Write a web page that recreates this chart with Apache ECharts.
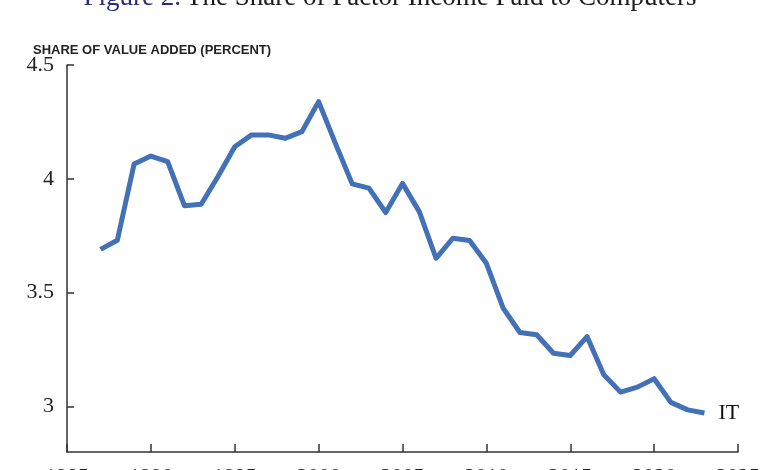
<!DOCTYPE html>
<html>
<head>
<meta charset="utf-8">
<script src="https://cdn.jsdelivr.net/npm/echarts@6/dist/echarts.min.js"></script>
<style>
html,body{margin:0;padding:0;background:#fff;}
#chart{width:780px;height:470px;}
</style>
</head>
<body>
<div id="chart"></div>
<script>
var years = [1987,1988,1989,1990,1991,1992,1993,1994,1995,1996,1997,1998,1999,2000,2001,2002,2003,2004,2005,2006,2007,2008,2009,2010,2011,2012,2013,2014,2015,2016,2017,2018,2019,2020,2021,2022,2023];
var itShare = [3.69,3.73,4.065,4.10,4.076,3.882,3.888,4.01,4.141,4.193,4.193,4.178,4.207,4.339,4.156,3.978,3.959,3.852,3.98,3.856,3.651,3.739,3.729,3.629,3.432,3.325,3.315,3.234,3.224,3.307,3.139,3.063,3.085,3.122,3.018,2.985,2.971];
var yTicks = [3, 3.5, 4, 4.5];
var seriesName = 'IT';
var titleMain = 'The Share of Factor Income Paid to Computers';
var titleFig = 'Figure 2.';
var yAxisTitle = 'SHARE OF VALUE ADDED (PERCENT)';

var chart = echarts.init(document.getElementById('chart'), null, {renderer:'canvas'});
var points = years.map(function(y,i){return [y, itShare[i]];});
chart.setOption({
  animation:false,
  backgroundColor:'#ffffff',
  title:[{
    text:'{a|' + titleFig + '} {b|' + titleMain + '}',
    left:'center', top:-21,
    textStyle:{rich:{
      a:{fontFamily:'Liberation Serif', fontWeight:'normal', fontSize:27, color:'#2a2c78'},
      b:{fontFamily:'Liberation Serif', fontWeight:'normal', fontSize:27, color:'#1a1a1a'}
    }}
  },{
    text:yAxisTitle,
    left:28, top:39,
    textStyle:{fontFamily:'Liberation Sans', fontWeight:'bold', fontSize:13, color:'#222'}
  }],
  grid:{left:67, right:42, top:65, bottom:18, containLabel:false, outerBoundsMode:'none'},
  xAxis:{
    type:'value', min:1985, max:2025, interval:5,
    axisLine:{show:true, lineStyle:{color:'#333', width:1.5}},
    axisTick:{show:true, inside:true, length:8, lineStyle:{color:'#333', width:1.5}},
    axisLabel:{margin:14, fontFamily:'Liberation Serif', fontSize:22, color:'#222',
      formatter:function(v){return String(v);}},
    splitLine:{show:false}
  },
  yAxis:{
    type:'value', min:2.8, max:4.5,
    axisLine:{show:true, lineStyle:{color:'#333', width:1.5}},
    axisTick:{show:true, inside:true, length:7, customValues:yTicks, lineStyle:{color:'#333', width:1.5}},
    axisLabel:{margin:13, customValues:yTicks, fontFamily:'Liberation Serif', fontSize:22, color:'#222',
      formatter:function(v){return String(v);}},
    splitLine:{show:false}
  },
  series:[{
    name:seriesName,
    type:'line',
    data:points,
    showSymbol:false,
    lineStyle:{color:'#4271b7', width:5, join:'round'},
    endLabel:{show:true, formatter:seriesName, distance:14, fontFamily:'Liberation Serif', fontSize:22, color:'#111'}
  }]
});
</script>
</body>
</html>
